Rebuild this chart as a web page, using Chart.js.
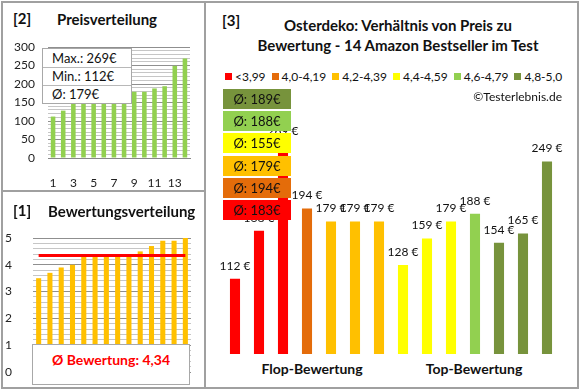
<!DOCTYPE html>
<html>
<head>
<meta charset="utf-8">
<script src="https://cdn.jsdelivr.net/npm/chart.js@4.4.0/dist/chart.umd.min.js"></script>
<style>
  body { margin: 0; background: #fff; font-family: Lato, sans-serif; color: #111; }
  #wrap { position: relative; width: 580px; height: 390px; overflow: hidden; background: #fff; }
  .abs { position: absolute; }
  canvas { position: absolute; }
  .line { position: absolute; background: #a0a0a0; }
  .head { position: absolute; font-weight: bold; font-size: 15px; }
  .info { position: absolute; left: 42px; top: 48px; width: 88px; background: #fff; border: 1px solid #a8a8a8; font-size: 13px; }
  .info div { height: 17px; line-height: 17px; padding-left: 9px; border-top: 1px solid #b8b8b8; }
  .info div:first-child { border-top: none; height: 18px; line-height: 18px; }
  .avgbox { position: absolute; left: 223px; width: 68px; height: 20px; line-height: 20px; text-align: center; font-size: 13px; }
  #legend { position: absolute; left: 225px; top: 69px; display: flex; gap: 6px; font-size: 12px; white-space: nowrap; }
  #legend span.sw { display: inline-block; width: 7px; height: 7px; margin-right: 3px; vertical-align: 1px; }
</style>
</head>
<body>
<div id="wrap">
  <canvas id="priceChart" width="200" height="170" style="left:0;top:30px"></canvas>
  <canvas id="ratingChart" width="200" height="165" style="left:0;top:225px"></canvas>
  <canvas id="mainChart" width="356" height="254" style="left:213px;top:100px"></canvas>

  <!-- Rahmen -->
  <div class="line" style="left:1px;top:1px;width:578px;height:2px"></div>
  <div class="line" style="left:1px;top:387px;width:578px;height:2px"></div>
  <div class="line" style="left:1px;top:1px;width:2px;height:388px"></div>
  <div class="line" style="left:577px;top:1px;width:2px;height:388px"></div>
  <div class="line" style="left:204px;top:1px;width:2px;height:388px"></div>
  <div class="line" style="left:1px;top:190px;width:204px;height:2px"></div>

  <div class="head" style="left:13px;top:9px">[2]</div>
  <div class="head" style="left:57px;top:10px">Preisverteilung</div>
  <div class="head" style="left:13px;top:201px">[1]</div>
  <div class="head" style="left:48px;top:202px">Bewertungsverteilung</div>
  <div class="head" style="left:222px;top:11px">[3]</div>
  <div class="head" style="left:230px;top:15px;width:336px;text-align:center;line-height:20px">
    Osterdeko: Verhältnis von Preis zu<br>Bewertung - 14 Amazon Bestseller im Test</div>

  <div class="info" id="priceInfo"></div>

  <div class="abs" id="ratingInfo" style="left:32px;top:344px;width:156px;height:39px;background:#fff;border:1px solid #a8a8a8;text-align:center;color:#f00;font-weight:bold;font-size:14px;line-height:30px"></div>

  <div id="legend"></div>
  <div class="abs" style="left:440px;top:89px;width:122px;text-align:right;font-size:12px">©Testerlebnis.de</div>
  <div id="avgBoxes"></div>

  <div class="head" style="left:232px;top:360px;width:160px;text-align:center;font-size:14px">Flop-Bewertung</div>
  <div class="head" style="left:394px;top:360px;width:160px;text-align:center;font-size:14px">Top-Bewertung</div>
</div>

<script>
// Produkte, sortiert nach Bewertung
const prices = [112, 168, 269, 194, 179, 179, 179, 128, 159, 179, 188, 154, 165, 249];
const ratings = [3.5, 3.7, 3.9, 4.0, 4.3, 4.3, 4.3, 4.4, 4.4, 4.5, 4.7, 4.9, 4.9, 5.0];
const ranks = ['1', '2', '3', '4', '5', '6', '7', '8', '9', '10', '11', '12', '13', '14'];

// Bewertungsklassen
const bandNames = ['<3,99', '4,0-4,19', '4,2-4,39', '4,4-4,59', '4,6-4,79', '4,8-5,0'];
const bandUpper = [4.0, 4.2, 4.4, 4.6, 4.8, 5.01];
const bandColors = ['#FF0000', '#E46C0A', '#FFC000', '#FFFF00', '#92D050', '#77933C'];

const bandOf = r => bandUpper.findIndex(u => r < u);
const fmt = n => String(n).replace('.', ',');

const sortedPrices = [...prices].sort((a, b) => a - b);
const sortedRatings = [...ratings].sort((a, b) => a - b);
const avgPrice = prices.reduce((a, b) => a + b, 0) / prices.length;
const avgRating = ratings.reduce((a, b) => a + b, 0) / ratings.length;

// Textkästen
document.getElementById('priceInfo').innerHTML =
  '<div>Max.: ' + Math.max(...prices) + '€</div>' +
  '<div>Min.: ' + Math.min(...prices) + '€</div>' +
  '<div>Ø: ' + Math.round(avgPrice) + '€</div>';
document.getElementById('ratingInfo').textContent = 'Ø Bewertung: ' + fmt(avgRating.toFixed(2));

const legend = document.getElementById('legend');
bandNames.forEach((name, i) => {
  const item = document.createElement('div');
  item.innerHTML = '<span class="sw" style="background:' + bandColors[i] + '"></span>' + name;
  legend.appendChild(item);
});

// Durchschnittspreis je Klasse, beste Klasse oben
const boxes = document.getElementById('avgBoxes');
for (let b = bandNames.length - 1, row = 0; b >= 0; b--, row++) {
  const vals = prices.filter((p, i) => bandOf(ratings[i]) === b);
  const avg = Math.round(vals.reduce((a, c) => a + c, 0) / vals.length);
  const el = document.createElement('div');
  el.className = 'avgbox';
  el.style.top = (89 + row * 22.2) + 'px';
  el.style.background = bandColors[b];
  el.textContent = 'Ø: ' + avg + '€';
  boxes.appendChild(el);
}

const tickFont = { family: 'Lato', size: 12 };

// [2] Preisverteilung
new Chart(document.getElementById('priceChart'), {
  type: 'bar',
  data: {
    labels: ranks,
    datasets: [{ data: sortedPrices, backgroundColor: '#92D050', barPercentage: 0.45, categoryPercentage: 1 }]
  },
  options: {
    responsive: false,
    animation: false,
    layout: { padding: { top: 17, right: 10, left: 0, bottom: 12 } },
    plugins: { legend: { display: false }, tooltip: { enabled: false } },
    scales: {
      x: {
        grid: { display: false },
        border: { color: '#888' },
        ticks: { autoSkip: false, maxRotation: 0, padding: 10, color: '#222', font: tickFont,
          callback: (v, i) => i % 2 === 0 ? ranks[i] : '' },
        afterFit: s => { s.height = 30; }
      },
      y: {
        min: 0, max: 300,
        border: { display: false },
        grid: { tickLength: 13, tickColor: 'transparent',
          color: c => c.tick && c.tick.value % 50 === 0 ? '#8f8f8f' : '#c6c6c6' },
        ticks: { stepSize: 10, autoSkip: false, padding: 0, color: '#222', font: tickFont,
          callback: v => v % 50 === 0 ? v : '' },
        afterFit: s => { s.width = 48; }
      }
    }
  }
});

// [1] Bewertungsverteilung
new Chart(document.getElementById('ratingChart'), {
  type: 'bar',
  data: {
    labels: ranks,
    datasets: [
      { type: 'line', data: ranks.map(() => avgRating), borderColor: '#FF0000', borderWidth: 3,
        pointRadius: 0, order: 0 },
      { type: 'bar', data: sortedRatings, backgroundColor: '#FFC000', barPercentage: 0.45,
        categoryPercentage: 1, order: 1 }
    ]
  },
  options: {
    responsive: false,
    animation: false,
    layout: { padding: { top: 13, right: 9, left: 0, bottom: 18 } },
    plugins: { legend: { display: false }, tooltip: { enabled: false } },
    scales: {
      x: { display: false },
      y: {
        min: 0, max: 5,
        border: { display: false },
        grid: { tickLength: 21, tickColor: 'transparent',
          color: c => c.tick && Math.abs(c.tick.value - Math.round(c.tick.value)) < 1e-6 ? '#8f8f8f' : '#c6c6c6' },
        ticks: { stepSize: 0.2, autoSkip: false, padding: 0, color: '#222', font: tickFont,
          callback: v => Math.abs(v - Math.round(v)) < 1e-6 ? Math.round(v) : '' },
        afterFit: s => { s.width = 33; }
      }
    }
  }
});

// [3] Preis zu Bewertung
const valueLabels = {
  id: 'valueLabels',
  afterDatasetsDraw(chart) {
    const ctx = chart.ctx;
    ctx.save();
    ctx.font = '12px Lato';
    ctx.fillStyle = '#111';
    ctx.textAlign = 'center';
    ctx.textBaseline = 'middle';
    chart.getDatasetMeta(0).data.forEach((bar, i) => {
      ctx.fillText(prices[i] + ' €', bar.x, bar.y - 13);
    });
    ctx.restore();
  }
};

new Chart(document.getElementById('mainChart'), {
  type: 'bar',
  data: {
    labels: ranks,
    datasets: [{
      data: prices,
      backgroundColor: ratings.map(r => bandColors[bandOf(r)]),
      barPercentage: 0.42,
      categoryPercentage: 1
    }]
  },
  options: {
    responsive: false,
    animation: false,
    layout: { padding: { left: 10, right: 10, top: 0, bottom: 0 } },
    plugins: { legend: { display: false }, tooltip: { enabled: false } },
    scales: {
      x: { display: false },
      y: { display: false, min: 24, max: 321 }
    }
  },
  plugins: [valueLabels]
});
</script>
</body>
</html>
